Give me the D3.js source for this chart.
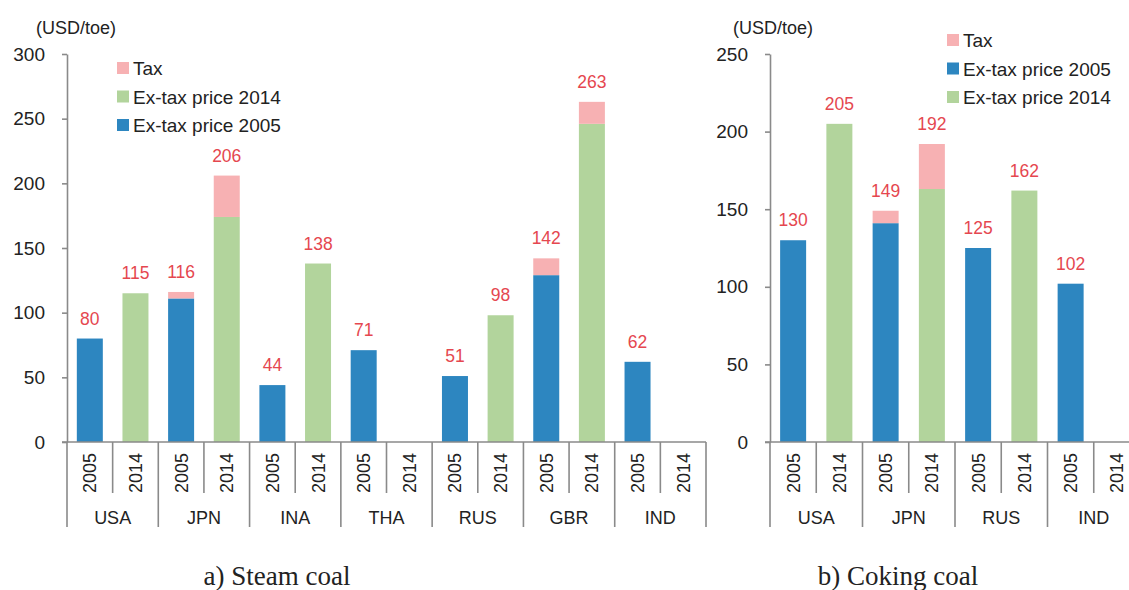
<!DOCTYPE html>
<html>
<head>
<meta charset="utf-8">
<script src="https://cdn.jsdelivr.net/npm/d3@7"></script>
<style>
  body { margin: 0; background: #fff; }
  svg { display: block; font-family: "Liberation Sans", Arial, sans-serif; }
</style>
</head>
<body>
<svg id="chart" width="1129" height="590"></svg>
<script>
// values (USD/toe)
const years = ["2005", "2014"];

const steamCountries = ["USA", "JPN", "INA", "THA", "RUS", "GBR", "IND"];
const steamEx2005 = [80, 111, 44, 71, 51, 129, 62];
const steamTotal2005 = [80, 116, 44, 71, 51, 142, 62];
const steamEx2014 = [115, 174, 138, null, 98, 246, null];
const steamTotal2014 = [115, 206, 138, null, 98, 263, null];
const steamTicks = [0, 50, 100, 150, 200, 250, 300];

const cokingCountries = ["USA", "JPN", "RUS", "IND"];
const cokingEx2005 = [130, 141, 125, 102];
const cokingTotal2005 = [130, 149, 125, 102];
const cokingEx2014 = [205, 163, 162, null];
const cokingTotal2014 = [205, 192, 162, null];
const cokingTicks = [0, 50, 100, 150, 200, 250];

const colors = { tax: "#f7b1b3", ex2005: "#2d86c0", ex2014: "#b2d49c" };
const labelColor = "#e5474f";
const axisColor = "#8a8a8a";
const textColor = "#222";

const svg = d3.select("#chart");

function rows(countries, ex05, tot05, ex14, tot14) {
  const out = [];
  countries.forEach((c, i) => {
    out.push({ country: c, year: "2005", ex: ex05[i], total: tot05[i], key: c + "-2005" });
    out.push({ country: c, year: "2014", ex: ex14[i], total: tot14[i], key: c + "-2014" });
  });
  return out;
}

function drawPanel(cfg) {
  const g = svg.append("g");
  const data = cfg.data;
  const x = d3.scaleBand().domain(data.map(d => d.key)).range(cfg.xRange);
  const y = d3.scaleLinear().domain([0, d3.max(cfg.ticks)]).range([442, 54]);
  const bw = 26;

  // y axis
  const yAxis = g.append("g")
    .attr("transform", `translate(${cfg.xRange[0]},0)`)
    .call(d3.axisLeft(y).tickValues(cfg.ticks).tickSize(5).tickPadding(17).tickSizeOuter(0));
  yAxis.select(".domain").attr("stroke", axisColor).attr("stroke-width", 1.6);
  yAxis.selectAll(".tick line").attr("stroke", axisColor).attr("stroke-width", 1.6);
  yAxis.selectAll(".tick text").attr("fill", textColor)
    .style("font-size", "19px").attr("font-family", "Liberation Sans, Arial, sans-serif");

  g.append("text")
    .attr("x", cfg.unitX).attr("y", 34)
    .attr("fill", textColor).style("font-size", "18px")
    .text("(USD/toe)");

  // bars
  const bars = g.append("g");
  data.filter(d => d.ex != null).forEach(d => {
    const cx = x(d.key) + x.bandwidth() / 2;
    bars.append("rect")
      .attr("x", cx - bw / 2).attr("width", bw)
      .attr("y", y(d.ex)).attr("height", y(0) - y(d.ex))
      .attr("fill", d.year === "2005" ? colors.ex2005 : colors.ex2014);
    if (d.total > d.ex) {
      bars.append("rect")
        .attr("x", cx - bw / 2).attr("width", bw)
        .attr("y", y(d.total)).attr("height", y(d.ex) - y(d.total))
        .attr("fill", colors.tax);
    }
    g.append("text")
      .attr("x", cx).attr("y", y(d.total) - 14)
      .attr("text-anchor", "middle")
      .attr("fill", labelColor).style("font-size", "17.5px")
      .text(d.total);
  });

  // category axis (two levels)
  const xa = g.append("g").attr("stroke", axisColor).attr("stroke-width", 1.6);
  xa.append("line").attr("x1", cfg.xRange[0] - 5).attr("x2", cfg.xRange[1])
    .attr("y1", 442).attr("y2", 442);
  data.forEach((d, i) => {
    const left = x(d.key);
    const bottom = d.year === "2005" ? 527 : 493;
    xa.append("line").attr("x1", left).attr("x2", left).attr("y1", 442).attr("y2", bottom);
  });
  const end = x(data[data.length - 1].key) + x.bandwidth();
  xa.append("line").attr("x1", end).attr("x2", end).attr("y1", 442).attr("y2", 527);

  data.forEach(d => {
    const cx = x(d.key) + x.bandwidth() / 2;
    g.append("text")
      .attr("transform", `translate(${cx + 6.5},473) rotate(-90)`)
      .attr("text-anchor", "middle")
      .attr("fill", textColor).style("font-size", "18px")
      .text(d.year);
  });
  cfg.countries.forEach(c => {
    const cx = x(c + "-2005") + x.bandwidth();
    g.append("text")
      .attr("x", cx).attr("y", 524)
      .attr("text-anchor", "middle")
      .attr("fill", textColor).style("font-size", "18px")
      .text(c);
  });

  // legend
  const lg = g.append("g").attr("transform", `translate(${cfg.legend.x},${cfg.legend.y})`);
  cfg.legend.items.forEach((it, i) => {
    lg.append("rect").attr("x", 0).attr("y", i * 28.5 - 6).attr("width", 12).attr("height", 12)
      .attr("fill", colors[it.key]);
    lg.append("text").attr("x", 16).attr("y", i * 28.5 + 7)
      .attr("fill", textColor).style("font-size", "19px")
      .text(it.label);
  });

  // panel title
  g.append("text")
    .attr("x", cfg.titleX).attr("y", 585)
    .attr("text-anchor", "middle")
    .attr("font-family", "Liberation Serif, Times New Roman, serif")
    .attr("fill", textColor).style("font-size", "27px")
    .text(cfg.title);
}

drawPanel({
  countries: steamCountries,
  data: rows(steamCountries, steamEx2005, steamTotal2005, steamEx2014, steamTotal2014),
  ticks: steamTicks,
  xRange: [67, 706],
  unitX: 36,
  legend: {
    x: 117, y: 68,
    items: [
      { key: "tax", label: "Tax" },
      { key: "ex2014", label: "Ex-tax price 2014" },
      { key: "ex2005", label: "Ex-tax price 2005" }
    ]
  },
  titleX: 277,
  title: "a) Steam coal"
});

drawPanel({
  countries: cokingCountries,
  data: rows(cokingCountries, cokingEx2005, cokingTotal2005, cokingEx2014, cokingTotal2014),
  ticks: cokingTicks,
  xRange: [770, 1140],
  unitX: 733,
  legend: {
    x: 947, y: 40,
    items: [
      { key: "tax", label: "Tax" },
      { key: "ex2005", label: "Ex-tax price 2005" },
      { key: "ex2014", label: "Ex-tax price 2014" }
    ]
  },
  titleX: 898,
  title: "b) Coking coal"
});
</script>
</body>
</html>
